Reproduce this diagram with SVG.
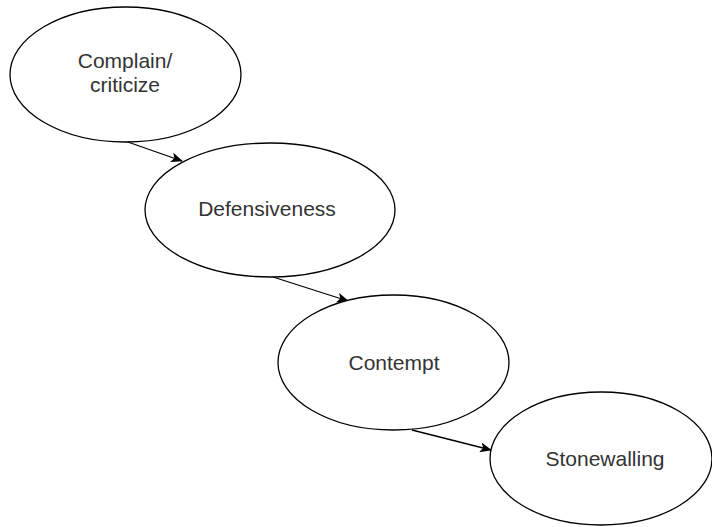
<svg xmlns="http://www.w3.org/2000/svg" width="712" height="527" viewBox="0 0 712 527">
  <style>
    .node ellipse { fill: #ffffff; stroke: #000000; stroke-width: 1.3; }
    .node text { font-family: "Liberation Sans", Arial, sans-serif; font-size: 21px; fill: #333333; text-anchor: middle; }
    .edge { fill: none; stroke: #000000; stroke-width: 1.3; marker-end: url(#arrow); }
  </style>
  <defs>
    <marker id="arrow" viewBox="0 0 12 10" refX="11" refY="5" markerWidth="12" markerHeight="10" markerUnits="userSpaceOnUse" orient="auto">
      <path d="M0,0 L12,5 L0,10 L3,5 Z" fill="#000000"/>
    </marker>
  </defs>
  <rect width="712" height="527" fill="#ffffff"/>

  <g id="connectors">
    <line class="edge" x1="125" y1="141" x2="182" y2="161"/>
    <line class="edge" x1="273" y1="277" x2="348" y2="301"/>
    <line class="edge" x1="412" y1="430" x2="491" y2="450"/>
  </g>

  <g id="complain" class="node">
    <ellipse cx="125.5" cy="74.5" rx="115.5" ry="67.5"/>
    <text x="125" y="68">Complain/</text>
    <text x="125" y="92">criticize</text>
  </g>

  <g id="defensiveness" class="node">
    <ellipse cx="270" cy="210" rx="125" ry="67"/>
    <text x="267" y="216">Defensiveness</text>
  </g>

  <g id="contempt" class="node">
    <ellipse cx="393.5" cy="362.5" rx="115.5" ry="67.5"/>
    <text x="394" y="370">Contempt</text>
  </g>

  <g id="stonewalling" class="node">
    <ellipse cx="601" cy="458.5" rx="111" ry="66.5"/>
    <text x="605" y="466">Stonewalling</text>
  </g>
</svg>
